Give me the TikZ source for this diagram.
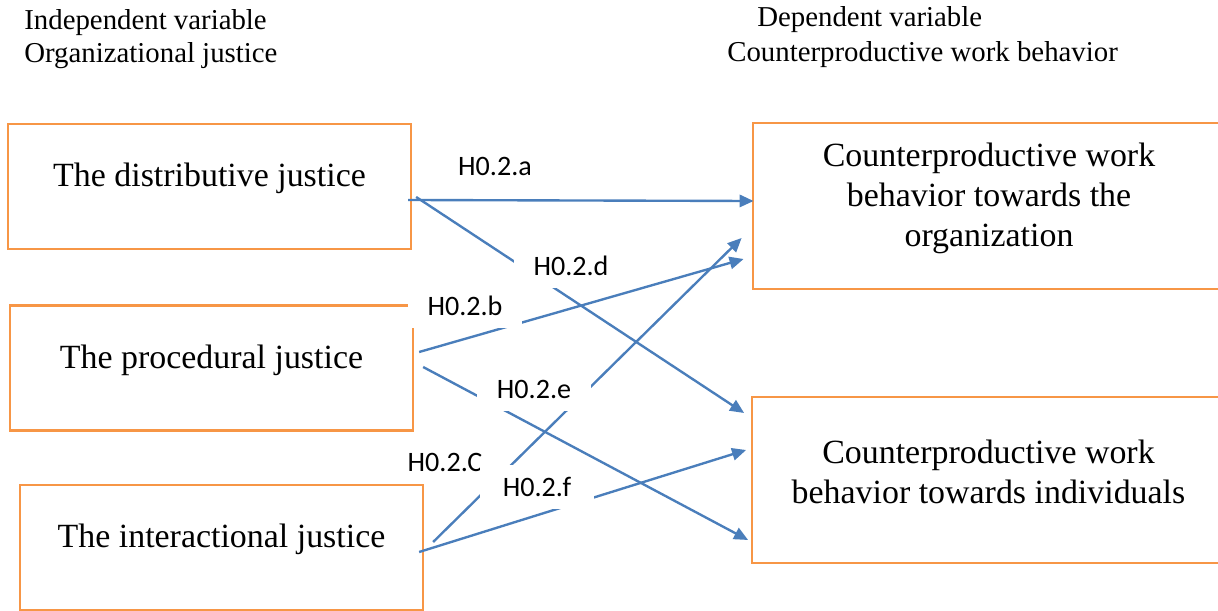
\documentclass[tikz,border=0pt]{standalone}
\usepackage{fontspec}
\setmainfont{Liberation Serif}
\newfontfamily\labelfont{Carlito}
\usepackage{tikz}
\usetikzlibrary{calc,positioning,arrows.meta}
\definecolor{jorange}{HTML}{F79646}
\definecolor{jblue}{HTML}{4A7EBB}

\begin{document}
\begin{tikzpicture}[
	x=0.02cm, y=-0.02cm,
	jbox/.style = {rectangle, draw=jorange, line width=1.35pt,
		minimum width=8.06cm, minimum height=2.5cm},
	wide/.style = {minimum width=9.45cm, minimum height=3.32cm},
	jtext/.style = {font=\fontsize{19.3}{22.7}\selectfont, align=center,
		yshift=4.5pt},
	hyp/.style = {fill=white, minimum width=2.28cm, minimum height=0.9cm,
		font=\labelfont\fontsize{16}{19}\selectfont},
	head/.style = {anchor=base west, inner sep=0pt,
		font=\fontsize{16.4}{18.7}\selectfont},
	link/.style = {draw=jblue, line width=1.35pt,
		-{Triangle[length=8pt,width=7pt]}},
	]
	\useasboundingbox (0,0) rectangle (1218,611);

	% headings
	\node[head] (indep) at (24,30) {Independent variable};
	\node[head] (orgjust) at (24,63) {Organizational justice};
	\node[head] (dep) at (757,27) {Dependent variable};
	\node[head] (cwb) at (727,62) {Counterproductive work behavior};

	% justice boxes
	\node[jbox, label={[jtext]center:The distributive justice}] (dist) at (209.5,186.5) {};
	\node[jbox, label={[jtext]center:The procedural justice}] (proc) at (211.5,368) {};
	\node[jbox, label={[jtext]center:The interactional justice}] (inter) at (221.5,547.5) {};

	% behavior boxes
	\node[jbox, wide, label={[jtext]center:Counterproductive work\\behavior towards the\\organization}] (org) at (989,206) {};
	\node[jbox, wide, label={[jtext]center:Counterproductive work\\behavior towards individuals}] (indiv) at (988.5,480) {};

	\draw[link] ($(dist.east)+(-4,13.5)$) -- ($(org.west)+(2,-5)$);
	\draw[link] ($(dist.east)+(4,10.5)$) -- ($(indiv.west)+(-7,-67)$);
	\draw[link] ($(proc.east)+(5,-16)$) -- ($(org.west)+(-8,53)$);
	\draw[link] ($(proc.east)+(9,-1)$) -- ($(indiv.west)+(-3,60)$);
	\draw[link] ($(inter.east)+(9,-5.5)$) -- ($(org.west)+(-10,32)$);
	\draw[link] ($(inter.east)+(-5,4.5)$) -- ($(indiv.west)+(-5,-30)$);

	% hypothesis labels
	\node[hyp] (ha) at (495,166) {H0.2.a};
	\node[hyp] (hd) at (571,266) {H0.2.d};
	\node[hyp] (hb) at (465,306) {H0.2.b};
	\node[hyp] (he) at (534,389) {H0.2.e};
	\node[hyp] (hc) at (445,462) {H0.2.C};
	\node[hyp] (hf) at (537,487) {H0.2.f};
\end{tikzpicture}
\end{document}
